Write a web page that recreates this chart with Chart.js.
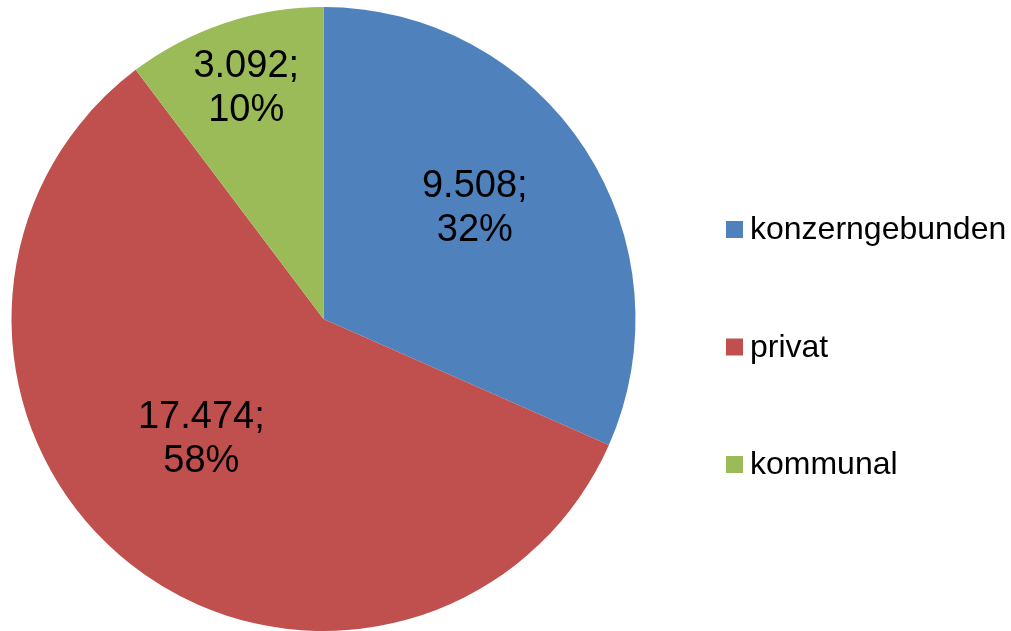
<!DOCTYPE html>
<html lang="de">
<head>
<meta charset="UTF-8" />
<script src="https://cdn.jsdelivr.net/npm/chart.js@4.4.0/dist/chart.umd.min.js"></script>
<style>
  html, body { margin: 0; padding: 0; background: #fff; }
  #wrap { width: 1011px; height: 631px; }
</style>
</head>
<body>
<div id="wrap"><canvas id="chart" width="1011" height="631"></canvas></div>
<script>
const labels = ['konzerngebunden', 'privat', 'kommunal'];
const values = [9508, 17474, 3092];
const valueLabels = ['9.508', '17.474', '3.092'];
const percentLabels = ['32%', '58%', '10%'];
const colors = ['#4F81BD', '#C0504D', '#9BBB59'];

// where Excel put each data label: fraction of radius, angle nudge (deg)
const labelRadius = [0.6, 0.55, 0.78];
const labelNudge = [-3, 7, 0];

const dataLabels = {
  id: 'dataLabels',
  afterDatasetsDraw(chart) {
    const ctx = chart.ctx;
    const arcs = chart.getDatasetMeta(0).data;
    ctx.save();
    ctx.font = '38px "Liberation Sans", Arial, sans-serif';
    ctx.fillStyle = '#000';
    ctx.textAlign = 'center';
    ctx.textBaseline = 'middle';
    arcs.forEach((arc, i) => {
      const mid = (arc.startAngle + arc.endAngle) / 2 + labelNudge[i] * Math.PI / 180;
      const r = arc.outerRadius * labelRadius[i];
      const x = arc.x + Math.cos(mid) * r;
      const y = arc.y + Math.sin(mid) * r;
      ctx.fillText(valueLabels[i] + ';', x, y - 22);
      ctx.fillText(percentLabels[i], x, y + 22);
    });
    ctx.restore();
  }
};

const sideLegend = {
  id: 'sideLegend',
  afterDraw(chart) {
    const ctx = chart.ctx;
    ctx.save();
    ctx.font = '32px "Liberation Sans", Arial, sans-serif';
    ctx.textBaseline = 'middle';
    ctx.textAlign = 'left';
    labels.forEach((name, i) => {
      const cy = 229.5 + i * 117.5;
      ctx.fillStyle = colors[i];
      ctx.fillRect(726, cy - 8.5, 17, 17);
      ctx.fillStyle = '#000';
      ctx.fillText(name, 750, cy + 1);
    });
    ctx.restore();
  }
};

new Chart(document.getElementById('chart'), {
  type: 'pie',
  data: {
    labels: labels,
    datasets: [{
      data: values,
      backgroundColor: colors,
      borderWidth: 0
    }]
  },
  options: {
    responsive: false,
    animation: false,
    layout: { padding: { left: 10, right: 374, top: 7, bottom: 0 } },
    plugins: {
      legend: { display: false },
      tooltip: { enabled: false }
    }
  },
  plugins: [dataLabels, sideLegend]
});
</script>
</body>
</html>
